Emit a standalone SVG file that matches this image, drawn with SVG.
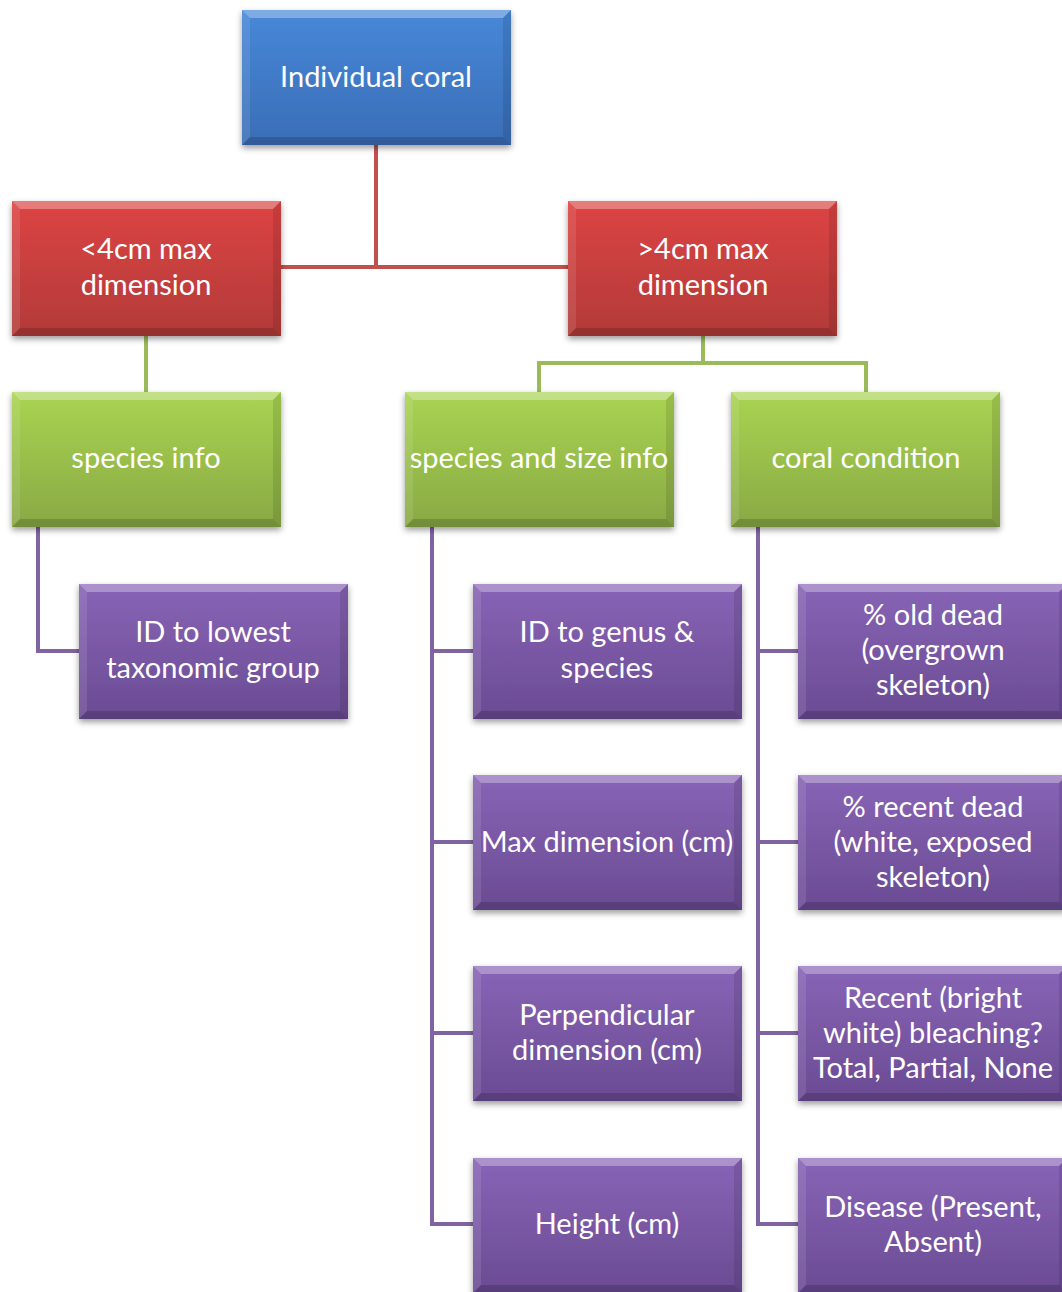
<svg xmlns="http://www.w3.org/2000/svg" width="1062" height="1292" viewBox="0 0 1062 1292">
<style>
.t{font-family:Lato,"Open Sans",sans-serif;font-size:29px;fill:#fff;text-anchor:middle}
.lr{fill:none;stroke:#c0504d;stroke-width:4}
.lg{fill:none;stroke:#9bbb59;stroke-width:4}
.lp{fill:none;stroke:#8064a2;stroke-width:4}
</style>
<defs>
<linearGradient id="gb" x1="0" y1="0" x2="0" y2="1"><stop offset="0" stop-color="#4788d8"/><stop offset="1" stop-color="#3a6db6"/></linearGradient>
<linearGradient id="gr" x1="0" y1="0" x2="0" y2="1"><stop offset="0" stop-color="#dd4444"/><stop offset="1" stop-color="#b23a38"/></linearGradient>
<linearGradient id="gg" x1="0" y1="0" x2="0" y2="1"><stop offset="0" stop-color="#a9d452"/><stop offset="1" stop-color="#89a944"/></linearGradient>
<linearGradient id="gp" x1="0" y1="0" x2="0" y2="1"><stop offset="0" stop-color="#8864b6"/><stop offset="1" stop-color="#6a4b93"/></linearGradient>
<filter id="sh" x="-10%" y="-10%" width="120%" height="130%"><feDropShadow dx="0" dy="3" stdDeviation="3" flood-color="#000" flood-opacity="0.4"/></filter>
<g id="bev">
<polygon points="0,0 269,0 261,8 8,8" fill="#fff" opacity="0.3"/>
<polygon points="0,0 8,8 8,127 0,135" fill="#fff" opacity="0.1"/>
<polygon points="269,0 261,8 261,127 269,135" fill="#000" opacity="0.1"/>
<polygon points="0,135 8,127 261,127 269,135" fill="#000" opacity="0.16"/>
</g>
</defs>
<g id="connectors">
<path class="lr" d="M376,145 V267 M281,267 H568"/>
<path class="lg" d="M146,336 V392 M703,336 V363 M539,392 V363 H866 V392"/>
<path class="lp" d="M38,527 V651 H79"/>
<path class="lp" d="M432,527 V1224 H473 M432,651 H473 M432,842 H473 M432,1033 H473"/>
<path class="lp" d="M758,527 V1224 H798 M758,651 H798 M758,842 H798 M758,1033 H798"/>
</g>
<g id="n1"><rect x="242" y="10" width="269" height="135" fill="url(#gb)" filter="url(#sh)"/><use href="#bev" x="242" y="10"/><text class="t" x="376" y="87">Individual coral</text></g>
<g id="n2"><rect x="12" y="201" width="269" height="135" fill="url(#gr)" filter="url(#sh)"/><use href="#bev" x="12" y="201"/><text class="t" x="146" y="259">&lt;4cm max</text><text class="t" x="146" y="295">dimension</text></g>
<g id="n3"><rect x="568" y="201" width="269" height="135" fill="url(#gr)" filter="url(#sh)"/><use href="#bev" x="568" y="201"/><text class="t" x="703" y="259">&gt;4cm max</text><text class="t" x="703" y="295">dimension</text></g>
<g id="n4"><rect x="12" y="392" width="269" height="135" fill="url(#gg)" filter="url(#sh)"/><use href="#bev" x="12" y="392"/><text class="t" x="146" y="468">species info</text></g>
<g id="n5"><rect x="405" y="392" width="269" height="135" fill="url(#gg)" filter="url(#sh)"/><use href="#bev" x="405" y="392"/><text class="t" x="539" y="468">species and size info</text></g>
<g id="n6"><rect x="731" y="392" width="269" height="135" fill="url(#gg)" filter="url(#sh)"/><use href="#bev" x="731" y="392"/><text class="t" x="866" y="468">coral condition</text></g>
<g id="n7"><rect x="79" y="584" width="269" height="135" fill="url(#gp)" filter="url(#sh)"/><use href="#bev" x="79" y="584"/><text class="t" x="213" y="642">ID to lowest</text><text class="t" x="213" y="678">taxonomic group</text></g>
<g id="n8"><rect x="473" y="584" width="269" height="135" fill="url(#gp)" filter="url(#sh)"/><use href="#bev" x="473" y="584"/><text class="t" x="607" y="642">ID to genus &amp;</text><text class="t" x="607" y="678">species</text></g>
<g id="n9"><rect x="473" y="775" width="269" height="135" fill="url(#gp)" filter="url(#sh)"/><use href="#bev" x="473" y="775"/><text class="t" x="607" y="852">Max dimension (cm)</text></g>
<g id="n10"><rect x="473" y="966" width="269" height="135" fill="url(#gp)" filter="url(#sh)"/><use href="#bev" x="473" y="966"/><text class="t" x="607" y="1025">Perpendicular</text><text class="t" x="607" y="1060">dimension (cm)</text></g>
<g id="n11"><rect x="473" y="1158" width="269" height="135" fill="url(#gp)" filter="url(#sh)"/><use href="#bev" x="473" y="1158"/><text class="t" x="607" y="1234">Height (cm)</text></g>
<g id="n12"><rect x="798" y="584" width="269" height="135" fill="url(#gp)" filter="url(#sh)"/><use href="#bev" x="798" y="584"/><text class="t" x="933" y="625">% old dead</text><text class="t" x="933" y="660">(overgrown</text><text class="t" x="933" y="695">skeleton)</text></g>
<g id="n13"><rect x="798" y="775" width="269" height="135" fill="url(#gp)" filter="url(#sh)"/><use href="#bev" x="798" y="775"/><text class="t" x="933" y="817">% recent dead</text><text class="t" x="933" y="852">(white, exposed</text><text class="t" x="933" y="887">skeleton)</text></g>
<g id="n14"><rect x="798" y="966" width="269" height="135" fill="url(#gp)" filter="url(#sh)"/><use href="#bev" x="798" y="966"/><text class="t" x="933" y="1008">Recent (bright</text><text class="t" x="933" y="1043">white) bleaching?</text><text class="t" x="933" y="1078">Total, Partial, None</text></g>
<g id="n15"><rect x="798" y="1158" width="269" height="135" fill="url(#gp)" filter="url(#sh)"/><use href="#bev" x="798" y="1158"/><text class="t" x="933" y="1217">Disease (Present,</text><text class="t" x="933" y="1252">Absent)</text></g>
</svg>
